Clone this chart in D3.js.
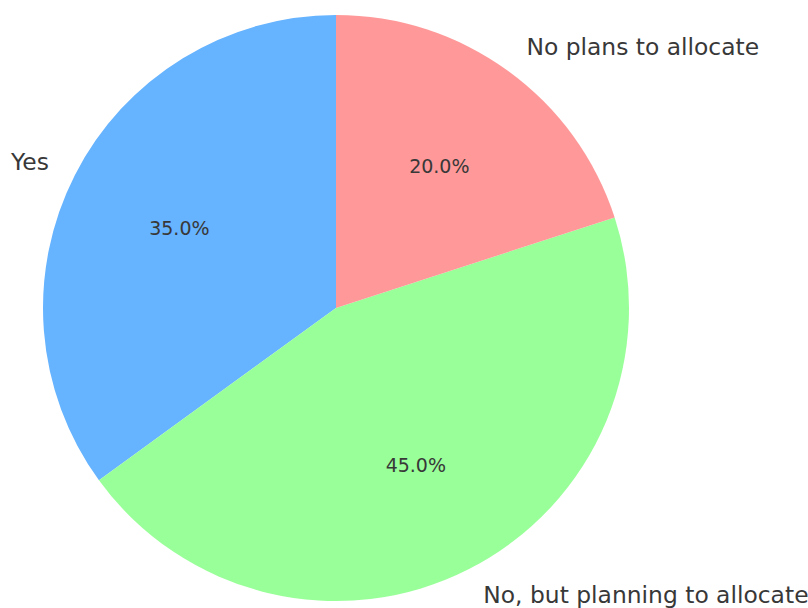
<!DOCTYPE html>
<html>
<head>
<meta charset="utf-8">
<script src="https://cdn.jsdelivr.net/npm/d3@7/dist/d3.min.js"></script>
<style>
  html, body { margin: 0; padding: 0; background: #ffffff; }
  svg { display: block; }
  text { font-family: "DejaVu Sans", sans-serif; fill: #383838; }
</style>
</head>
<body>
<svg id="chart" width="808" height="608"></svg>
<script>
// Survey answers and their shares (percent)
const categories = ["Yes", "No, but planning to allocate", "No plans to allocate"];
const shares = [35, 45, 20];
const colors = ["#66b3ff", "#99ff99", "#ff9999"];

const width = 808, height = 608;
const cx = 336, cy = 308, radius = 293;

const svg = d3.select("#chart");
const g = svg.append("g").attr("transform", `translate(${cx},${cy})`);

const data = categories.map((c, i) => ({ label: c, value: shares[i], color: colors[i] }));

// Start at 12 o'clock and run counter-clockwise
const pie = d3.pie()
  .value(d => d.value)
  .sort(null)
  .startAngle(0)
  .endAngle(-2 * Math.PI);

const arcs = pie(data);
const arc = d3.arc().innerRadius(0).outerRadius(radius);

g.selectAll("path.slice")
  .data(arcs)
  .join("path")
  .attr("class", "slice")
  .attr("d", arc)
  .attr("fill", d => d.data.color);

// Polar helper: d3 angle (0 at top, clockwise positive) -> x/y
function at(angle, r) {
  return [Math.sin(angle) * r, -Math.cos(angle) * r];
}

const fmt = d3.format(".1f");

// Percentage labels inside the slices
g.selectAll("text.pct")
  .data(arcs)
  .join("text")
  .attr("class", "pct")
  .attr("x", d => at((d.startAngle + d.endAngle) / 2, radius * 0.6)[0])
  .attr("y", d => at((d.startAngle + d.endAngle) / 2, radius * 0.6)[1])
  .attr("text-anchor", "middle")
  .attr("dominant-baseline", "central")
  .attr("font-size", 19)
  .text(d => fmt(d.data.value) + "%");

// Category labels outside the pie
g.selectAll("text.lbl")
  .data(arcs)
  .join("text")
  .attr("class", "lbl")
  .each(function(d) {
    const mid = (d.startAngle + d.endAngle) / 2;
    const [x, y] = at(mid, radius * 1.1);
    d3.select(this)
      .attr("x", x + (x < 0 ? 0 : 1))
      .attr("y", y)
      .attr("text-anchor", x < 0 ? "end" : "start");
  })
  .attr("dominant-baseline", "central")
  .attr("font-size", 23.4)
  .text(d => d.data.label);
</script>
</body>
</html>
